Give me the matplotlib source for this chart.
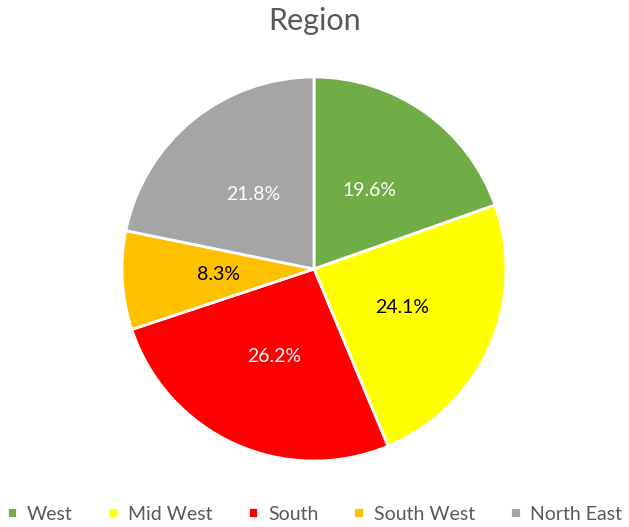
import matplotlib.pyplot as plt

plt.rcParams['font.family'] = ['Lato', 'DejaVu Sans']

regions = ["West", "Mid West", "South", "South West", "North East"]
shares = [19.6, 24.1, 26.2, 8.3, 21.8]
colors = ["#70AD47", "#FFFF00", "#FF0000", "#FFC000", "#A5A5A5"]
label_colors = ["white", "black", "white", "black", "white"]

W, H = 629, 527
fig = plt.figure(figsize=(W / 100, H / 100), dpi=100)

cx, cy, r = 314, 269, 192
ax = fig.add_axes([(cx - r) / W, (H - cy - r) / H, 2 * r / W, 2 * r / H])

wedges, texts, autotexts = ax.pie(
    shares,
    colors=colors,
    startangle=90,
    counterclock=False,
    autopct="%.1f%%",
    pctdistance=0.5,
    radius=1,
    wedgeprops=dict(edgecolor="white", linewidth=2),
    textprops=dict(fontsize=14),
)
for t, c in zip(autotexts, label_colors):
    t.set_color(c)
ax.set_xlim(-1.0, 1.0)
ax.set_ylim(-1.0, 1.0)
ax.set_aspect("equal")

fig.text(0.5, 1 - 21 / H, "Region", ha="center", va="center",
         fontsize=22, color="#595959")

fig.legend(wedges, regions, loc="center", bbox_to_anchor=(0.5, 1 - 514 / H),
           ncol=5, frameon=False, fontsize=14, handlelength=0.55,
           handleheight=0.55, handletextpad=0.5, columnspacing=1.8,
           labelcolor="#595959")

fig.savefig("out.png", dpi=100)
